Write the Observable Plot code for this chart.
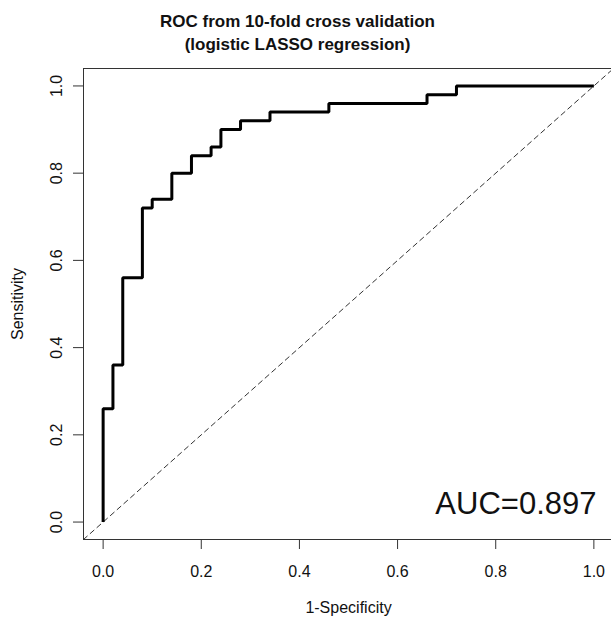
<!DOCTYPE html>
<html>
<head>
<meta charset="utf-8">
<script src="https://cdn.jsdelivr.net/npm/d3@7"></script>
<script src="https://cdn.jsdelivr.net/npm/@observablehq/plot@0.6"></script>
<style>
  html, body { margin: 0; padding: 0; background: white; overflow: hidden; }
</style>
</head>
<body>
<div id="chart"></div>
<script>
// ROC vertices (1-Specificity, Sensitivity)
const fpr = [0, 0, 0.02, 0.04, 0.08, 0.10, 0.14, 0.18, 0.22, 0.24, 0.28, 0.34, 0.46, 0.66, 0.72, 1.0];
const tpr = [0, 0.26, 0.36, 0.56, 0.72, 0.74, 0.80, 0.84, 0.86, 0.90, 0.92, 0.94, 0.96, 0.98, 1.0, 1.0];
const xTicks = [0, 0.2, 0.4, 0.6, 0.8, 1.0];
const yTicks = [0, 0.2, 0.4, 0.6, 0.8, 1.0];
const titleLines = ["ROC from 10-fold cross validation", "(logistic LASSO regression)"];
const xLabel = "1-Specificity";
const yLabel = "Sensitivity";
const aucText = ["AUC=0.897"];
const domain = [-0.04, 1.04];

const roc = fpr.map((x, i) => ({fpr: x, tpr: tpr[i]}));
const fmt = d3.format(".1f");
const font = "'Liberation Sans', Arial, Helvetica, sans-serif";

const chart = Plot.plot({
  width: 611,
  height: 621,
  marginLeft: 83,
  marginRight: -2,
  marginTop: 68,
  marginBottom: 82,
  x: {domain},
  y: {domain},
  style: {fontFamily: font, background: "white", color: "#111"},
  marks: [
    Plot.frame({stroke: "#333", strokeWidth: 1}),
    Plot.line(domain, {x: d => d, y: d => d, stroke: "#333", strokeWidth: 1, strokeDasharray: "5,4"}),
    Plot.line(roc, {x: "fpr", y: "tpr", curve: "step-after", stroke: "black", strokeWidth: 3, strokeLinejoin: "miter", strokeLinecap: "butt"}),
    Plot.axisX(xTicks, {anchor: "bottom", tickSize: 10, tickPadding: 16, tickFormat: fmt, fontSize: 16, label: null, stroke: "#333"}),
    Plot.axisY(yTicks, {anchor: "left", tickSize: 10, tickFormat: () => "", label: null, stroke: "#333"}),
    Plot.text(yTicks, {y: d => d, frameAnchor: "left", text: d => fmt(d), rotate: -90, textAnchor: "middle", lineAnchor: "top", dx: -32.7, fontSize: 16, fill: "#111"}),
    Plot.text([titleLines.join("\n")], {text: d => d, frameAnchor: "top", dx: -51, dy: -59, lineAnchor: "top", lineHeight: 1.41, fontSize: 17, fontWeight: "bold", fill: "#111"}),
    Plot.text([xLabel], {text: d => d, frameAnchor: "bottom", dy: 62.6, lineAnchor: "top", fontSize: 16, fill: "#111"}),
    Plot.text([yLabel], {text: d => d, frameAnchor: "left", dx: -72, rotate: -90, textAnchor: "middle", lineAnchor: "top", fontSize: 16, fill: "#111"}),
    Plot.text(aucText, {text: d => d, frameAnchor: "bottom-right", dx: -17, dy: -47.7, textAnchor: "end", lineAnchor: "top", fontSize: 31, fill: "#111"})
  ]
});
document.getElementById("chart").appendChild(chart);
</script>
</body>
</html>
